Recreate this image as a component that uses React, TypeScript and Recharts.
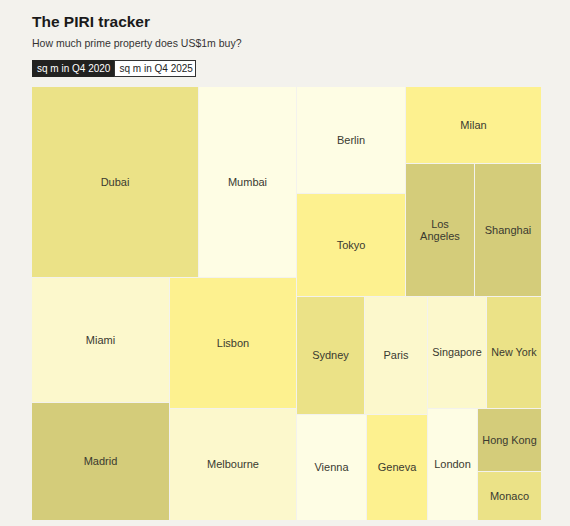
import React from 'react';
import { Treemap } from 'recharts';

// ---- data ----
const cities = [
  'Dubai', 'Mumbai', 'Miami', 'Madrid', 'Lisbon', 'Melbourne',
  'Berlin', 'Tokyo', 'Milan', 'Los Angeles', 'Shanghai',
  'Sydney', 'Paris', 'Vienna', 'Geneva',
  'Singapore', 'New York', 'London', 'Hong Kong', 'Monaco',
];
// label text as shown in the cells (line breaks as in the chart)
const cellLabels = [
  'Dubai', 'Mumbai', 'Miami', 'Madrid', 'Lisbon', 'Melbourne',
  'Berlin', 'Tokyo', 'Milan', 'Los\nAngeles', 'Shanghai',
  'Sydney', 'Paris', 'Vienna', 'Geneva',
  'Singapore', 'New York', 'London', 'Hong Kong', 'Monaco',
];
const sqm2020 = [176, 103, 95, 90, 91, 78, 64, 62, 57, 50, 49, 44, 41, 41, 36, 36, 34, 31, 22, 17];
// colour band (1 = darkest ... 5 = lightest)
const bands = [2, 5, 4, 1, 3, 4, 5, 3, 3, 1, 1, 2, 4, 5, 3, 4, 2, 5, 1, 2];
const bandColors = ['#d4cc7a', '#ebe287', '#fdf18f', '#fcf8cc', '#fefde4'];

// grouping used by the treemap layout
const layoutGroups: any = [
  [
    ['Dubai', 'Mumbai'],
    [['Miami', 'Madrid'], ['Lisbon', 'Melbourne']],
  ],
  [
    [['Berlin', 'Tokyo'], ['Milan', ['Los Angeles', 'Shanghai']]],
    [
      [['Sydney', 'Paris'], ['Vienna', 'Geneva']],
      [['Singapore', 'New York'], ['London', ['Hong Kong', 'Monaco']]],
    ],
  ],
];

const tabs = ['sq m in Q4 2020', 'sq m in Q4 2025'];

function build(item: any): any {
  if (typeof item === 'string') {
    const i = cities.indexOf(item);
    return { name: item, label: cellLabels[i], value: sqm2020[i], band: bands[i] };
  }
  return { children: item.map(build) };
}
const treeData = layoutGroups.map(build);

const FONT = '"Liberation Sans", Arial, Helvetica, sans-serif';
const BG = '#f3f2ed';

let ctx: CanvasRenderingContext2D | null = null;
function measure(text: string, size: number) {
  if (!ctx && typeof document !== 'undefined') {
    ctx = document.createElement('canvas').getContext('2d');
  }
  if (!ctx) return text.length * size * 0.55;
  ctx.font = `${size}px ${FONT}`;
  return ctx.measureText(text).width;
}

function CellContent(props: any) {
  const { x, y, width, height, label, band, children } = props;
  if (children && children.length) return null;
  if (!width || !height) return null;
  const fill = bandColors[(band || 1) - 1];
  const lines: string[] = String(label || '').split('\n');
  const maxW = width - 9.5;
  let fs = 11;
  const widest = Math.max(...lines.map((l) => measure(l, fs)));
  if (widest > maxW) fs = (fs * maxW) / widest;
  const cx = x + (width - 1) / 2;
  const cy = y + (height - 1) / 2;
  const lh = 11.5;
  return (
    <g>
      <rect x={x} y={y} width={width - 1} height={height - 1} fill={fill} />
      <text x={cx} y={cy} textAnchor="middle" fontSize={fs} fontFamily={FONT} fill="#3a3a30">
        {lines.map((l, i) => (
          <tspan key={i} x={cx} y={cy + (i - (lines.length - 1) / 2) * lh} dy="0.35em">
            {l}
          </tspan>
        ))}
      </text>
    </g>
  );
}

export default function App() {
  return (
    <div
      style={{
        position: 'fixed',
        left: 0,
        top: 0,
        width: 570,
        height: 526,
        background: BG,
        fontFamily: FONT,
        overflow: 'hidden',
      }}
    >
      <svg width={570} height={87} style={{ position: 'absolute', left: 0, top: 0 }}>
        <text x={32} y={27} fontSize={15.5} fontWeight={700} fill="#1a1a1a" fontFamily={FONT}>
          The PIRI tracker
        </text>
        <text x={32} y={46.5} fontSize={10.5} fill="#333" fontFamily={FONT}>
          How much prime property does US$1m buy?
        </text>
        <rect x={32} y={60} width={82} height={17} fill="#222220" />
        <text x={37} y={72} fontSize={10} fill="#ffffff" fontFamily={FONT}>
          {tabs[0]}
        </text>
        <rect x={114.5} y={60.5} width={81} height={16} fill="#ffffff" stroke="#333" strokeWidth={1} />
        <text x={119.5} y={72} fontSize={10} fill="#222" fontFamily={FONT}>
          {tabs[1]}
        </text>
      </svg>
      <div style={{ position: 'absolute', left: 32, top: 87 }}>
        <Treemap
          width={510}
          height={434}
          data={treeData}
          dataKey="value"
          aspectRatio={1}
          isAnimationActive={false}
          content={(p: any) => <CellContent {...p} />}
        />
      </div>
    </div>
  );
}
